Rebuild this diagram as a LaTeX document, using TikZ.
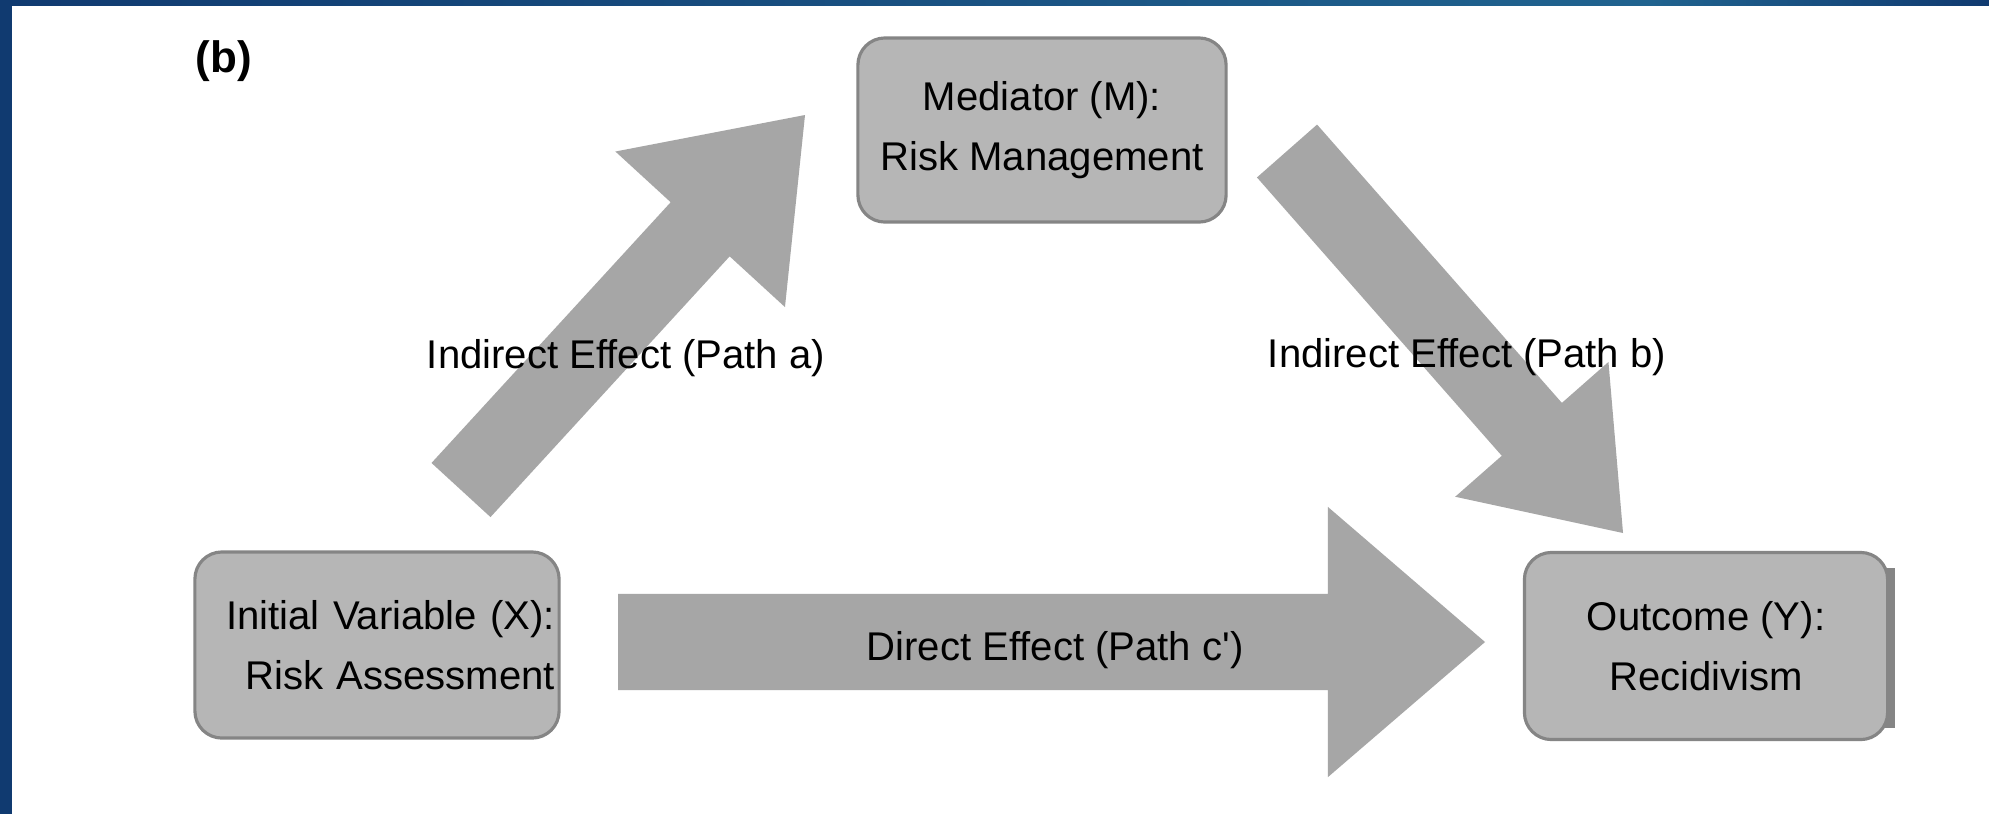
\documentclass[tikz,border=0pt]{standalone}
\usepackage{fontspec}
\setmainfont{Liberation Sans}
\usetikzlibrary{calc}

\definecolor{framenavy}{HTML}{103A70}
\definecolor{frameteal}{HTML}{20638F}
\definecolor{boxfill}{HTML}{B6B6B6}
\definecolor{boxline}{HTML}{858585}
\definecolor{arrowfill}{HTML}{A6A6A6}

\tikzset{
  varbox/.style={draw=boxline, fill=boxfill, line width=0.9pt, rounded corners=0.27cm, align=center, inner sep=0.04cm},
  fatfill/.style={fill=arrowfill},
}

% tail, tip, half shaft, half head, head length
\newcommand{\fatarrow}[5]{%
  \coordinate (hb) at ($(#2)!#5!(#1)$);
  \fill[fatfill] ($(#1)!#3!90:(#2)$) -- ($(hb)!#3!90:(#2)$) -- ($(hb)!#4!90:(#2)$) -- (#2)
    -- ($(hb)!#4!-90:(#2)$) -- ($(hb)!#3!-90:(#2)$) -- ($(#1)!#3!-90:(#2)$) -- cycle;
}

\begin{document}
\begin{tikzpicture}[x=0.01cm, y=-0.01cm, font=\fontsize{11.4}{17}\selectfont]
			% frame
			\fill[white] (0,0) rectangle (1989,814);
			\fill[framenavy] (0,0) rectangle (12,814);
			\shade[left color=framenavy, right color=frameteal] (0,0) rectangle (1650,5);
			\shade[left color=frameteal, right color=framenavy] (1650,0) rectangle (1989,5);
			\useasboundingbox (0,0) rectangle (1989,814);
			% paths
			\coordinate (a0) at (461,490); \coordinate (a1) at (805,115);
			\coordinate (b0) at (1287,151); \coordinate (b1) at (1623,533);
			\coordinate (c0) at (618,642); \coordinate (c1) at (1485,642);
			\fatarrow{a0}{a1}{0.40cm}{1.15cm}{1.55cm}
			\fatarrow{b0}{b1}{0.40cm}{1.02cm}{1.38cm}
			\fatarrow{c0}{c1}{0.48cm}{1.35cm}{1.57cm}
			% variables
			\node[varbox, minimum width=3.68cm, minimum height=1.84cm] (m) at (1042,130) {Mediator (M):\\Risk Management};
			\node[varbox, minimum width=3.64cm, minimum height=1.86cm, text width=3.56cm, align=right] (x) at (377,645) {Initial Variable (X):\\Risk Assessment};
			\fill[boxline] (1884,568) rectangle (1895,728);
			\node[varbox, minimum width=3.63cm, minimum height=1.87cm] (y) at (1706,646) {Outcome (Y):\\Recidivism};
			% labels
			\node[font=\bfseries\fontsize{12.5}{15}\selectfont] (panel) at (224,61) {(b)};
			\node (la) at (626,358) {Indirect Effect (Path a)};
			\node (lb) at (1467,357) {Indirect Effect (Path b)};
			\node (lc) at (1055,650) {Direct Effect (Path c\textquotesingle)};
		\end{tikzpicture}
\end{document}
